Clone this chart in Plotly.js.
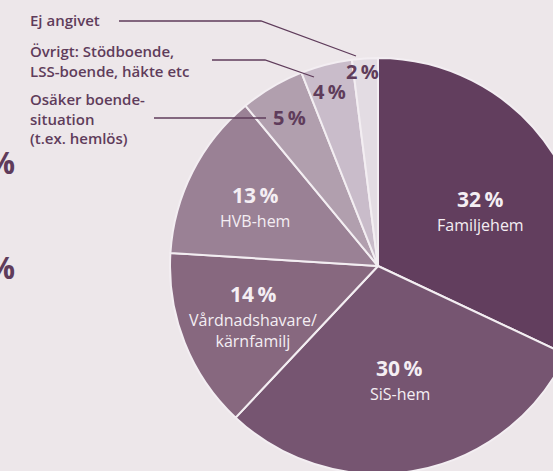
<!DOCTYPE html>
<html>
<head>
<meta charset="utf-8">
<script src="https://cdn.plot.ly/plotly-3.0.1.min.js"></script>
<style>
html,body{margin:0;padding:0;background:#ede7ea;overflow:hidden;width:553px;height:471px;}
#chart{width:800px;height:700px;}
</style>
</head>
<body>
<div id="chart"></div>
<script>
// ---- data ----
const categories = ["Familjehem", "SiS-hem", "Vårdnadshavare/<br>kärnfamilj", "HVB-hem",
  "Osäker boende-<br>situation<br>(t.ex. hemlös)", "Övrigt: Stödboende,<br>LSS-boende, häkte etc", "Ej angivet"];
const values = [32, 30, 14, 13, 5, 4, 2];
const sliceColors = ["#623e5e", "#765571", "#87687f", "#9a8195", "#b19fae", "#c9bcca", "#e3dce3"];
// which slices carry their name inside the pie
const nameInside = [true, true, true, true, false, false, false];

// ---- layout helpers ----
const W = 800, H = 700;
const CX = 378, CY = 266, R = 208;
const labelRadius = [116, 115, 134, 138, 173, 180, 195];
const labelNudge = [[5, 7], [0, 1], [0, -9], [0, 4], [0, 0], [-4, 0], [-3, 0]];
const dark = "#5f3c5b";
const FONT = "'Open Sans', 'Noto Sans', sans-serif";
const px = x => x / W;
const py = y => 1 - y / H;

const total = values.reduce((a, b) => a + b, 0);
const annotations = [];
let cum = 0;
values.forEach((v, i) => {
  const mid = (cum + v / 2) / total * 2 * Math.PI;
  cum += v;
  const r = labelRadius[i];
  const x = CX + r * Math.sin(mid) + labelNudge[i][0];
  const y = CY - r * Math.cos(mid) + labelNudge[i][1];
  const pct = v + "\u2009%";
  if (nameInside[i]) {
    annotations.push({xref: "paper", yref: "paper", x: px(x), y: py(y - 12), text: "<b>" + pct + "</b>",
      showarrow: false, xanchor: "center", yanchor: "middle",
      font: {family: FONT, size: 21, color: "#f4eef3"}});
    annotations.push({xref: "paper", yref: "paper", x: px(x), y: py(y + 1), text: categories[i],
      showarrow: false, xanchor: "center", yanchor: "top", align: "center",
      font: {family: FONT, size: 16, color: "#f4eef3", weight: 500}});
  } else {
    annotations.push({xref: "paper", yref: "paper", x: px(x), y: py(y), text: "<b>" + pct + "</b>",
      showarrow: false, xanchor: "center", yanchor: "middle",
      font: {family: FONT, size: 20, color: dark}});
  }
});

// callout labels on the left
const callouts = [
  {idx: 6, y: 20, path: [[119, 21], [261, 21], [356, 56]]},
  {idx: 5, y: 61, path: [[212, 60], [265, 60], [314, 77]]},
  {idx: 4, y: 118.5, path: [[154, 118], [266, 118]]}
];
const shapes = [];
callouts.forEach(c => {
  annotations.push({xref: "paper", yref: "paper", x: px(28), y: py(c.y), text: categories[c.idx],
    showarrow: false, xanchor: "left", yanchor: "middle", align: "left",
    font: {family: FONT, size: 15, color: dark, weight: 600}});
  const d = c.path.map((p, k) => (k ? "L" : "M") + px(p[0]) + "," + py(p[1])).join(" ");
  shapes.push({type: "path", xref: "paper", yref: "paper", path: d,
    line: {color: dark, width: 1.3}});
});

// fragments of a neighbouring chart at the left edge
[162, 267].forEach(yy => {
  annotations.push({xref: "paper", yref: "paper", x: px(17), y: py(yy), text: "<b>%</b>",
    showarrow: false, xanchor: "right", yanchor: "middle",
    font: {family: FONT, size: 30, color: dark}});
});

const trace = {
  type: "pie",
  values: values,
  labels: categories,
  sort: false,
  direction: "clockwise",
  rotation: 0,
  textinfo: "none",
  hoverinfo: "skip",
  showlegend: false,
  marker: {colors: sliceColors, line: {color: "#f3eef2", width: 2}},
  domain: {x: [(CX - R) / W, (CX + R) / W], y: [1 - (CY + R) / H, 1 - (CY - R) / H]}
};

Plotly.newPlot("chart", [trace], {
  width: W, height: H,
  margin: {l: 0, r: 0, t: 0, b: 0},
  paper_bgcolor: "#ede7ea",
  plot_bgcolor: "#ede7ea",
  showlegend: false,
  annotations: annotations,
  shapes: shapes
}, {staticPlot: true, displayModeBar: false});
</script>
</body>
</html>
